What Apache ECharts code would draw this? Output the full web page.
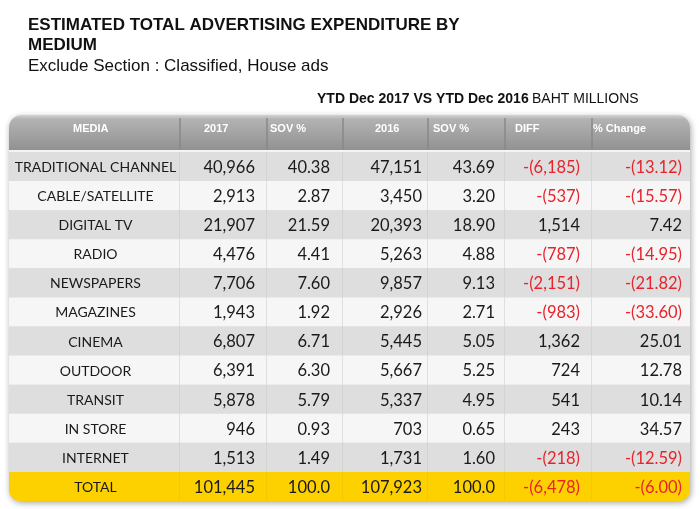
<!DOCTYPE html>
<html>
<head>
<meta charset="utf-8">
<script src="https://cdn.jsdelivr.net/npm/echarts@6/dist/echarts.min.js"></script>
<style>html,body{margin:0;padding:0;background:#fff}#c{width:700px;height:509px}</style>
</head>
<body>
<div id="c"></div>
<script>
// ---- data ----
const headers = ['MEDIA', '2017', 'SOV %', '2016', 'SOV %', 'DIFF', '% Change'];
const media = ['TRADITIONAL CHANNEL','CABLE/SATELLITE','DIGITAL TV','RADIO','NEWSPAPERS','MAGAZINES','CINEMA','OUTDOOR','TRANSIT','IN STORE','INTERNET','TOTAL'];
const val2017 = ['40,966','2,913','21,907','4,476','7,706','1,943','6,807','6,391','5,878','946','1,513','101,445'];
const sov2017 = ['40.38','2.87','21.59','4.41','7.60','1.92','6.71','6.30','5.79','0.93','1.49','100.0'];
const val2016 = ['47,151','3,450','20,393','5,263','9,857','2,926','5,445','5,667','5,337','703','1,731','107,923'];
const sov2016 = ['43.69','3.20','18.90','4.88','9.13','2.71','5.05','5.25','4.95','0.65','1.60','100.0'];
const diff = ['-(6,185)','-(537)','1,514','-(787)','-(2,151)','-(983)','1,362','724','541','243','-(218)','-(6,478)'];
const pctChange = ['-(13.12)','-(15.57)','7.42','-(14.95)','-(21.82)','-(33.60)','25.01','12.78','10.14','34.57','-(12.59)','-(6.00)'];

// ---- layout (styles) ----
const colEdges = [0, 171, 258, 334, 419, 496, 583, 681];
const rightPad = [0, 12, 13, 6, 10, 12, 8];
const headerX = [73, 204, 270, 375, 433, 515, 593];

const columns = [media, val2017, sov2017, val2016, sov2016, diff, pctChange];
const cells = [];
for (let r = 0; r < media.length; r++) {
  for (let c = 0; c < columns.length; c++) {
    cells.push([c, r, columns[c][r]]);
  }
}

const chart = echarts.init(document.getElementById('c'), null, {renderer: 'canvas'});
const nRows = media.length;

chart.setOption({
  animation: false,
  backgroundColor: '#ffffff',
  grid: {left: 9, right: 10, top: 152, bottom: 8},
  xAxis: {type: 'value', min: 0, max: 681, show: false},
  yAxis: {type: 'category', data: media, inverse: true, show: false},
  graphic: [
    {type: 'text', left: 28, top: 17, style: {text: 'ESTIMATED TOTAL ADVERTISING EXPENDITURE BY', font: 'bold 17px "Liberation Sans", Arial', fill: '#111'}},
    {type: 'text', left: 28, top: 37, style: {text: 'MEDIUM', font: 'bold 17px "Liberation Sans", Arial', fill: '#111'}},
    {type: 'text', left: 28, top: 58, style: {text: 'Exclude Section : Classified, House ads', font: '17px "Liberation Sans", Arial', fill: '#111'}},
    {type: 'text', left: 317, top: 92, style: {
      text: '{b|YTD Dec 2017 VS YTD Dec 2016} {n|BAHT MILLIONS}',
      rich: {
        b: {font: 'bold 14px "Liberation Sans", Arial', fill: '#111'},
        n: {font: '14px "Liberation Sans", Arial', fill: '#111'}
      }
    }},
    // table shadow
    {type: 'rect', shape: {x: 9, y: 115, width: 681, height: 386, r: 12}, z: -10,
      style: {fill: '#e0e0e0', shadowBlur: 6, shadowColor: 'rgba(0,0,0,0.35)', shadowOffsetX: 1, shadowOffsetY: 2}},
    // header
    {type: 'rect', shape: {x: 9, y: 115, width: 681, height: 37, r: [13, 13, 0, 0]},
      style: {fill: new echarts.graphic.LinearGradient(0, 0, 0, 1, [
        {offset: 0, color: '#d2d2d2'}, {offset: 0.12, color: '#b2b2b2'}, {offset: 1, color: '#8f8f8f'}
      ])}},
    {type: 'rect', shape: {x: 9, y: 150, width: 681, height: 2}, style: {fill: '#f4f4f4'}}
  ].concat(colEdges.slice(1, -1).map(e => ({
    type: 'line', shape: {x1: 9 + e, y1: 118, x2: 9 + e, y2: 150}, style: {stroke: '#888888', lineWidth: 1.5}
  }))).concat(headers.map((h, i) => ({
    type: 'text', left: headerX[i], top: 123, style: {text: h, font: 'bold 11px "Liberation Sans", Arial', fill: '#ffffff'}
  }))),
  series: [{
    type: 'custom',
    coordinateSystem: 'cartesian2d',
    data: cells,
    encode: {x: 0, y: 1},
    renderItem: function (params, api) {
      const c = api.value(0), r = api.value(1);
      const text = cells[params.dataIndex][2];
      const p0 = api.coord([colEdges[c], r]);
      const p1 = api.coord([colEdges[c + 1], r]);
      const h = api.size([0, 1])[1];
      const y0 = p0[1] - h / 2;
      const isTotal = r === nRows - 1;
      let fill = isTotal ? '#fdd000' : (r % 2 === 0 ? '#dedede' : '#f6f6f6');
      let radius = 0;
      if (isTotal && c === 0) radius = [0, 0, 0, 11];
      if (isTotal && c === columns.length - 1) radius = [0, 0, 11, 0];
      const negative = text.indexOf('-(') === 0;
      const children = [
        {type: 'rect', shape: {x: p0[0], y: y0, width: p1[0] - p0[0], height: h, r: radius}, style: {fill: fill}},
      ];
      if (c < columns.length - 1) {
        children.push({type: 'line', shape: {x1: p1[0], y1: y0, x2: p1[0], y2: y0 + h},
          style: {stroke: isTotal ? '#e6c200' : '#c9c9c9', lineWidth: 1}});
      }
      if (c === 0) {
        children.push({type: 'text', style: {text: text, x: (p0[0] + p1[0]) / 2 + 1, y: p0[1] + 1, align: 'center', verticalAlign: 'middle',
          font: '14px Lato, "Noto Sans", sans-serif', fill: '#1a1a1a'}});
      } else {
        children.push({type: 'text', style: {text: text, x: p1[0] - rightPad[c], y: p0[1] + 1, align: 'right', verticalAlign: 'middle',
          font: '16.5px Lato, "Noto Sans", sans-serif', fill: negative ? '#e8232b' : '#1a1a1a'}});
      }
      return {type: 'group', children: children};
    }
  }]
});
</script>
</body>
</html>
